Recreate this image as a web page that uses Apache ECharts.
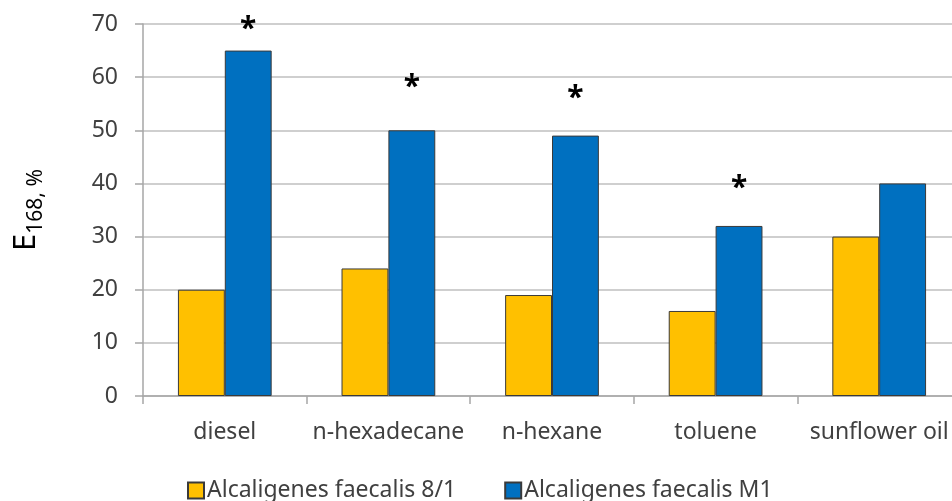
<!DOCTYPE html>
<html>
<head>
<meta charset="utf-8">
<title>E168 by substrate</title>
<script src="https://cdn.jsdelivr.net/npm/echarts@6/dist/echarts.min.js"></script>
<style>
  html, body { margin: 0; padding: 0; background: #ffffff; }
  #chart { width: 952px; height: 501px; }
</style>
</head>
<body>
<div id="chart"></div>
<script>
// Substrates tested
const substrates = ['diesel', 'n-hexadecane', 'n-hexane', 'toluene', 'sunflower oil'];

// E168, % for each strain
const strain81 = [20, 24, 19, 16, 30];
const strainM1 = [65, 50, 49, 32, 40];

// Height at which the significance mark (*) sits above the M1 bar (null = no mark)
const starLevel = [70, 59, 57, 40, null];

// Y axis ticks
const yMin = 0, yMax = 70, yStep = 10;

const seriesNames = ['Alcaligenes faecalis 8/1', 'Alcaligenes faecalis M1'];

const FONT = 'Noto Sans';
const TEXT = '#404040';

const chart = echarts.init(document.getElementById('chart'), null, { renderer: 'canvas' });

// invisible segment stacked on the M1 bar, carrying the "*" at its top
const starGap = starLevel.map((v, i) => v == null ? '-' : v - strainM1[i]);

chart.setOption({
  animation: false,
  backgroundColor: '#ffffff',
  textStyle: { fontFamily: FONT, color: TEXT },
  grid: {
    left: 143, top: 24, width: 818, bottom: 105,
    containLabel: false,
    outerBoundsMode: 'none'
  },
  legend: {
    data: seriesNames,
    left: 182,
    top: 474,
    icon: 'rect',
    itemWidth: 16,
    itemHeight: 16,
    itemGap: 48,
    textStyle: { fontFamily: FONT, fontSize: 23, color: TEXT, padding: [0, 0, 0, -2] }
  },
  xAxis: {
    type: 'category',
    data: substrates,
    axisLine: { show: true, lineStyle: { color: '#a6a6a6', width: 1.5 } },
    axisTick: { show: true, length: 8, alignWithLabel: false, lineStyle: { color: '#a6a6a6', width: 1.5 } },
    axisLabel: { fontFamily: FONT, fontSize: 23, color: TEXT, margin: 25, interval: 0 },
    splitLine: { show: false }
  },
  yAxis: {
    type: 'value',
    min: yMin,
    max: yMax,
    interval: yStep,
    name: '{e|E}{s|168, %}',
    nameLocation: 'middle',
    nameGap: 96,
    nameRotate: 90,
    nameTextStyle: {
      color: '#000000',
      rich: {
        e: { fontFamily: FONT, fontSize: 31, color: '#000000', verticalAlign: 'bottom', padding: [0, 0, 5, 0] },
        s: { fontFamily: FONT, fontSize: 21, color: '#000000', verticalAlign: 'bottom' }
      }
    },
    axisLine: { show: true, lineStyle: { color: '#a6a6a6', width: 1.5 } },
    axisTick: { show: true, length: 8, lineStyle: { color: '#a6a6a6', width: 1.5 } },
    axisLabel: { fontFamily: FONT, fontSize: 23, color: TEXT, margin: 25 },
    splitLine: { show: true, lineStyle: { color: '#bfbfbf', width: 1.5 } }
  },
  series: [
    {
      name: seriesNames[0],
      type: 'bar',
      data: strain81,
      barGap: '0%',
      barCategoryGap: '42.7%',
      itemStyle: { color: '#FFC000', borderColor: '#3a3a3a', borderWidth: 1 }
    },
    {
      name: seriesNames[1],
      type: 'bar',
      stack: 'm1',
      data: strainM1,
      itemStyle: { color: '#0070C0', borderColor: '#3a3a3a', borderWidth: 1 }
    },
    {
      name: 'significance',
      type: 'bar',
      stack: 'm1',
      data: starGap,
      silent: true,
      itemStyle: { color: 'rgba(0,0,0,0)', borderWidth: 0 },
      label: {
        show: true,
        position: ['50%', 0],
        align: 'center',
        verticalAlign: 'middle',
        offset: [0, 5],
        formatter: '*',
        fontFamily: FONT,
        fontSize: 30,
        fontWeight: 'bold',
        color: '#000000'
      }
    }
  ]
});
</script>
</body>
</html>
